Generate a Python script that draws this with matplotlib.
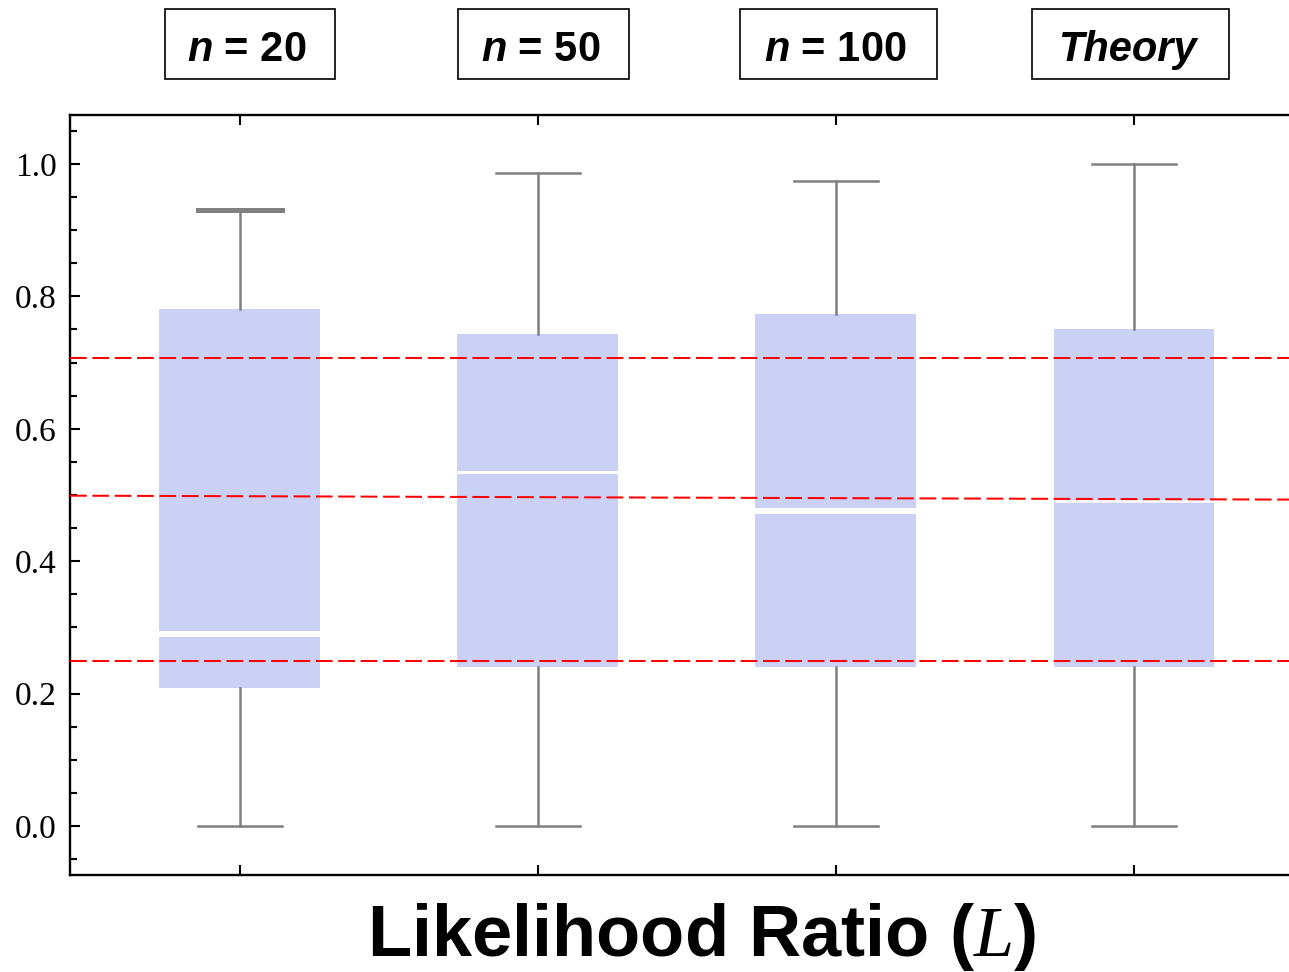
import matplotlib
matplotlib.use("Agg")
import matplotlib.pyplot as plt
from matplotlib.patches import Rectangle
from matplotlib.ticker import MultipleLocator

# Panel names and five-number summaries of L for each sample size
groups = ["$n$ = 20", "$n$ = 50", "$n$ = 100", "Theory"]
whisker_low = [0.0, 0.0, 0.0, 0.0]
q1 = [0.208, 0.240, 0.240, 0.240]
median = [0.290, 0.534, 0.476, 0.491]
q3 = [0.781, 0.743, 0.773, 0.751]
whisker_high = [0.930, 0.986, 0.974, 1.0]

# Reference levels (quartiles of the uniform-like law)
ref_lower = 0.25
ref_upper = 0.7071
ref_middle = [0.499, 0.493]   # start / end of the central reference line

plt.rcParams["mathtext.fontset"] = "custom"
plt.rcParams["mathtext.it"] = "Liberation Sans:italic:bold"
plt.rcParams["mathtext.bf"] = "Liberation Sans:bold"
plt.rcParams["mathtext.rm"] = "Liberation Sans:bold"
plt.rcParams["mathtext.cal"] = "Liberation Serif:italic"

W, H = 1289, 972
fig = plt.figure(figsize=(W / 100, H / 100), dpi=100)

def fx(px):
    return px / W

def fy(py):
    return (H - py) / H

ax = fig.add_axes([fx(70), fy(875), fx(1300) - fx(70), fy(115) - fy(875)])

positions = list(range(1, len(groups) + 1))
stats = []
for i in range(len(groups)):
    stats.append(dict(whislo=whisker_low[i], q1=q1[i], med=median[i],
                      q3=q3[i], whishi=whisker_high[i], fliers=[]))

box_color = "#cbd1f5"
gray = "#808080"
parts = ax.bxp(stats, positions=positions, widths=0.54, patch_artist=True,
               showfliers=False,
               boxprops=dict(facecolor=box_color, edgecolor="none", linewidth=0),
               whiskerprops=dict(color=gray, linewidth=1.8),
               capprops=dict(color=gray, linewidth=1.8),
               medianprops=dict(color="white", linewidth=3.0),
               capwidths=0.28, zorder=2)
parts["caps"][1].set_linewidth(3.6)
for ln, w in zip(parts["medians"], [4.3, 2.2, 4.3, 1.8]):
    ln.set_linewidth(w)

ax.set_xlim(0.43, 4.557)
ax.set_ylim(-0.074, 1.074)

# Dashed reference lines
dash_kw = dict(color="red", linewidth=1.45, dashes=(8.3, 2.8), zorder=4)
ax.axhline(ref_upper, **dash_kw)
ax.axhline(ref_lower, **dash_kw)
ax.plot(list(ax.get_xlim()), ref_middle, **dash_kw)

# Axes styling
ax.spines["right"].set_visible(False)
for s in ["left", "top", "bottom"]:
    ax.spines[s].set_linewidth(1.7)
ax.set_xticks(positions)
ax.set_xticklabels([])
ax.yaxis.set_major_locator(MultipleLocator(0.2))
ax.yaxis.set_minor_locator(MultipleLocator(0.05))
ax.tick_params(axis="both", which="both", direction="in", width=1.5)
ax.tick_params(axis="x", which="major", top=True, bottom=True, length=7)
ax.tick_params(axis="x", which="minor", top=False, bottom=False)
ax.tick_params(axis="y", which="major", length=7, pad=9.4)
ax.tick_params(axis="y", which="minor", length=5)
for lab in ax.get_yticklabels():
    lab.set_fontfamily("Liberation Serif")
    lab.set_fontsize(24)

# Panel headers in framed boxes
header_boxes = [(165, 335), (458, 629), (740, 937), (1032, 1229)]
for (x0, x1), name in zip(header_boxes, groups):
    fig.add_artist(Rectangle((fx(x0), fy(79)), fx(x1) - fx(x0), fy(9) - fy(79),
                             transform=fig.transFigure, fill=False,
                             edgecolor="black", linewidth=1.2))
    style = "italic" if "$" not in name else "normal"
    fig.text(fx((x0 + x1) / 2 - 3), fy(61), name, ha="center", va="baseline",
             fontsize=30, fontweight="bold", fontstyle=style,
             family="Liberation Sans")

# Axis title
fig.text(fx(701), fy(956), r"Likelihood Ratio ($\mathcal{L}$)",
         ha="center", va="baseline", fontsize=52, fontweight="bold",
         family="Liberation Sans")

fig.savefig("out.png", dpi=100)
